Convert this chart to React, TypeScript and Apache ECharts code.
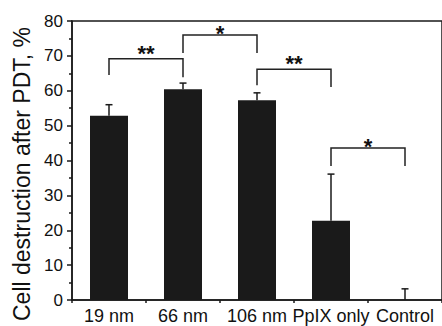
import React, { useEffect, useRef } from "react";
import * as echarts from "echarts";

const categories = ["19 nm", "66 nm", "106 nm", "PpIX only", "Control"];
const means = [52.8, 60.4, 57.3, 22.7, 0];
const errors = [3.2, 1.8, 2.1, 13.4, 3.2];

const bracketFrom = [0, 1, 2, 3];
const bracketTo = [1, 2, 3, 4];
const bracketTop = [69.2, 76.0, 66.2, 43.6];
const bracketLeftEnd = [64.5, 70.8, 61.6, 38.4];
const bracketRightEnd = [63.9, 70.8, 61.1, 38.4];
const bracketLabels = ["**", "*", "**", "*"];

const yTicks = { min: 0, max: 80, interval: 10 };
const yTitle = "Cell destruction after PDT, %";

const FONT = "'Liberation Sans', Arial, sans-serif";
const INK = "#1a1a1a";

export default function App() {
  const ref = useRef<HTMLDivElement>(null);
  useEffect(() => {
    if (!ref.current) return;
    const chart = echarts.init(ref.current, undefined, { renderer: "svg" });
    const errData = means.map((m, i) => [i, m, errors[i]]);
    const brData = bracketFrom.map((f, i) => [
      f,
      bracketTop[i],
      bracketTo[i],
      bracketLeftEnd[i],
      bracketRightEnd[i],
      i,
    ]);
    chart.setOption({
      animation: false,
      grid: {
        left: 72,
        top: 21,
        width: 378,
        height: 279,
        show: true,
        borderColor: INK,
        borderWidth: 1.5,
        backgroundColor: "transparent",
      },
      xAxis: [
        {
          type: "category",
          data: categories,
          boundaryGap: true,
          axisLine: { lineStyle: { color: INK, width: 1.5 } },
          axisTick: { alignWithLabel: true, length: 5, lineStyle: { color: INK, width: 1.5 } },
          axisLabel: { fontFamily: FONT, fontSize: 18, color: "#111", margin: 7, interval: 0 },
          splitLine: { show: false },
        },
        {
          type: "value",
          min: 0,
          max: 5,
          interval: 1,
          position: "bottom",
          axisLine: { show: false },
          axisTick: { show: true, length: 3, lineStyle: { color: INK, width: 1.5 } },
          axisLabel: { show: false },
          splitLine: { show: false },
        },
      ],
      yAxis: {
        type: "value",
        min: yTicks.min,
        max: yTicks.max,
        interval: yTicks.interval,
        axisLine: { show: true, lineStyle: { color: INK, width: 1.5 } },
        axisTick: { show: true, length: 5, lineStyle: { color: INK, width: 1.5 } },
        minorTick: { show: true, splitNumber: 2, length: 3, lineStyle: { color: INK, width: 1.5 } },
        axisLabel: { fontFamily: FONT, fontSize: 17, color: "#111", margin: 9 },
        splitLine: { show: false },
      },
      graphic: [
        {
          type: "text",
          x: 22,
          y: 174,
          rotation: Math.PI / 2,
          style: {
            text: yTitle,
            font: `23px ${FONT}`,
            fill: "#111",
            align: "center",
            verticalAlign: "middle",
            textAlign: "center",
            textVerticalAlign: "middle",
          },
        },
      ],
      series: [
        {
          type: "bar",
          data: means,
          barWidth: 38,
          itemStyle: { color: INK },
          z: 2,
        },
        {
          type: "custom",
          data: errData,
          z: 3,
          renderItem: (params: any, api: any) => {
            const x = api.value(0);
            const m = api.value(1);
            const e = api.value(2);
            const p0 = api.coord([x, m]);
            const p1 = api.coord([x, m + e]);
            return {
              type: "group",
              children: [
                {
                  type: "line",
                  shape: { x1: p0[0], y1: p0[1], x2: p1[0], y2: p1[1] },
                  style: { stroke: INK, lineWidth: 1.5 },
                },
                {
                  type: "line",
                  shape: { x1: p1[0] - 3.5, y1: p1[1], x2: p1[0] + 3.5, y2: p1[1] },
                  style: { stroke: INK, lineWidth: 1.5 },
                },
              ],
            };
          },
        },
        {
          type: "custom",
          data: brData,
          z: 4,
          renderItem: (params: any, api: any) => {
            const i = api.value(5);
            const a = api.coord([api.value(0), api.value(1)]);
            const b = api.coord([api.value(2), api.value(1)]);
            const l = api.coord([api.value(0), api.value(3)]);
            const r = api.coord([api.value(2), api.value(4)]);
            const lab = bracketLabels[i];
            const off = lab.length > 1 ? 5.5 : 1.5;
            return {
              type: "group",
              children: [
                {
                  type: "polyline",
                  shape: { points: [[l[0], l[1]], [a[0], a[1]], [b[0], b[1]], [r[0], r[1]]] },
                  style: { stroke: "#222", lineWidth: 1.5, fill: "none" },
                },
                {
                  type: "text",
                  x: (a[0] + b[0]) / 2,
                  y: a[1] - off,
                  style: {
                    text: lab,
                    font: `bold 22px ${FONT}`,
                    fill: "#111",
                    align: "center",
                    verticalAlign: "middle",
                    textAlign: "center",
                    textVerticalAlign: "middle",
                  },
                },
              ],
            };
          },
        },
      ],
    });
    return () => chart.dispose();
  }, []);
  return (
    <div
      ref={ref}
      style={{ position: "absolute", left: 0, top: 0, width: 442, height: 326 }}
    />
  );
}
